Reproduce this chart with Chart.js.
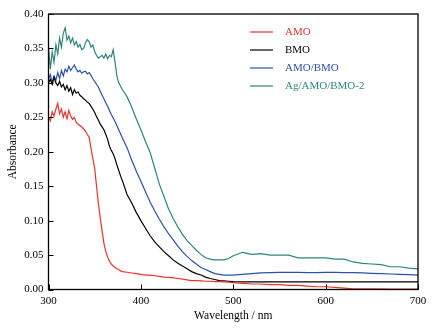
<!DOCTYPE html>
<html>
<head>
<meta charset="utf-8">
<script src="https://cdn.jsdelivr.net/npm/chart.js@4.4.1/dist/chart.umd.min.js"></script>
<style>
  html, body { margin: 0; padding: 0; background: #fff; }
  #wrap { width: 440px; height: 335px; }
</style>
</head>
<body>
<div id="wrap"><canvas id="absChart"></canvas></div>
<script>
// wavelength grid (nm)
const wavelengths = [
  300,302,304,306,308,310,312,314,316,318,320,322,324,326,328,330,332,334,336,338,
  340,342,344,346,348,350,352,354,356,358,360,362,364,366,368,370,372,374,376,378,380,
  385,390,395,400,405,410,415,420,425,430,435,440,445,450,455,460,465,470,475,480,485,490,495,500,
  510,520,530,540,550,560,570,580,590,600,610,620,630,640,650,660,670,680,690,700
];

const amo = [
  0.250,0.245,0.258,0.252,0.262,0.270,0.255,0.262,0.250,0.258,0.248,0.260,0.252,0.247,0.250,0.243,0.240,0.238,0.236,0.233,
  0.230,0.225,0.221,0.205,0.190,0.176,0.150,0.125,0.104,0.085,0.067,0.055,0.047,0.041,0.037,0.034,0.032,0.030,0.029,0.027,0.026,
  0.025,0.024,0.023,0.022,0.021,0.021,0.020,0.019,0.018,0.0175,0.017,0.016,0.015,0.014,0.013,0.013,0.0125,0.012,0.012,0.0115,0.0113,0.011,0.0105,0.010,
  0.009,0.008,0.008,0.007,0.007,0.006,0.006,0.005,0.004,0.004,0.003,0.002,0.001,0.001,0.001,0.001,0.0005,0.0005,0.0005,0.0005
];

const bmo = [
  0.300,0.305,0.298,0.308,0.300,0.296,0.302,0.294,0.298,0.290,0.296,0.288,0.293,0.283,0.290,0.285,0.287,0.282,0.280,0.277,
  0.275,0.272,0.270,0.266,0.262,0.257,0.251,0.246,0.240,0.236,0.232,0.225,0.218,0.208,0.202,0.197,0.190,0.181,0.173,0.165,0.158,
  0.138,0.126,0.112,0.100,0.089,0.078,0.069,0.062,0.055,0.049,0.043,0.038,0.034,0.030,0.026,0.023,0.021,0.018,0.016,0.0145,0.013,0.0125,0.012,0.0115,
  0.011,0.011,0.011,0.011,0.011,0.011,0.011,0.011,0.011,0.011,0.011,0.011,0.011,0.011,0.011,0.011,0.011,0.011,0.011,0.011
];

const amoBmo = [
  0.305,0.312,0.300,0.310,0.304,0.315,0.306,0.318,0.310,0.320,0.316,0.324,0.318,0.322,0.326,0.320,0.316,0.318,0.314,0.316,
  0.317,0.313,0.315,0.311,0.306,0.302,0.298,0.294,0.288,0.282,0.277,0.271,0.266,0.260,0.254,0.249,0.244,0.238,0.232,0.226,0.220,
  0.206,0.188,0.172,0.157,0.142,0.127,0.114,0.102,0.091,0.081,0.072,0.063,0.055,0.048,0.042,0.037,0.032,0.029,0.026,0.023,0.022,0.021,0.021,0.021,
  0.022,0.023,0.024,0.0245,0.025,0.025,0.025,0.0245,0.0245,0.025,0.0248,0.0245,0.0245,0.024,0.0235,0.023,0.0225,0.022,0.0215,0.021
];

const agAmoBmo = [
  0.352,0.320,0.345,0.330,0.355,0.342,0.365,0.352,0.372,0.380,0.362,0.368,0.358,0.365,0.355,0.360,0.352,0.356,0.348,0.350,
  0.358,0.363,0.360,0.352,0.355,0.345,0.340,0.336,0.338,0.340,0.336,0.342,0.335,0.340,0.338,0.348,0.330,0.310,0.300,0.295,0.290,
  0.280,0.265,0.248,0.232,0.215,0.199,0.176,0.153,0.135,0.117,0.103,0.091,0.080,0.071,0.064,0.057,0.051,0.046,0.044,0.043,0.043,0.043,0.045,0.049,
  0.054,0.051,0.052,0.050,0.050,0.050,0.046,0.046,0.046,0.046,0.044,0.044,0.040,0.038,0.037,0.036,0.033,0.033,0.031,0.030
];

const seriesNames = ['AMO', 'BMO', 'AMO/BMO', 'Ag/AMO/BMO-2'];
const seriesColors = ['#e8342c', '#000000', '#2d50a8', '#2e847e'];
const xTicks = [300, 400, 500, 600, 700];
const yTicks = [0.00, 0.05, 0.10, 0.15, 0.20, 0.25, 0.30, 0.35, 0.40];

const FONT = '"Liberation Serif", "DejaVu Serif", serif';

function toPoints(ys) {
  return ys.map((y, i) => ({ x: wavelengths[i], y: y }));
}

const allSeries = [amo, bmo, amoBmo, agAmoBmo];

// frame, inward ticks and legend
const decor = {
  id: 'decor',
  afterDraw(chart) {
    const ctx = chart.ctx;
    const a = chart.chartArea;
    const xs = chart.scales.x, ys = chart.scales.y;
    ctx.save();
    ctx.strokeStyle = '#000';
    ctx.lineWidth = 1.3;
    ctx.strokeRect(a.left, a.top, a.right - a.left, a.bottom - a.top);
    ctx.lineWidth = 1;
    ctx.beginPath();
    xTicks.forEach(v => {
      const px = Math.round(xs.getPixelForValue(v)) + 0.5;
      ctx.moveTo(px, a.bottom);
      ctx.lineTo(px, a.bottom - 5);
    });
    yTicks.forEach(v => {
      const py = Math.round(ys.getPixelForValue(v)) + 0.5;
      ctx.moveTo(a.left, py);
      ctx.lineTo(a.left + 5, py);
    });
    ctx.stroke();

    ctx.font = '11px ' + FONT;
    ctx.textBaseline = 'middle';
    ctx.textAlign = 'left';
    seriesNames.forEach((name, i) => {
      const y = 32 + i * 18;
      ctx.strokeStyle = seriesColors[i];
      ctx.lineWidth = 1.2;
      ctx.beginPath();
      ctx.moveTo(250, y);
      ctx.lineTo(273, y);
      ctx.stroke();
      ctx.fillStyle = seriesColors[i];
      ctx.fillText(name, 285, y);
    });
    ctx.restore();
  }
};

new Chart(document.getElementById('absChart'), {
  type: 'line',
  data: {
    datasets: allSeries.map((s, i) => ({
      label: seriesNames[i],
      data: toPoints(s),
      borderColor: seriesColors[i],
      borderWidth: 1.2,
      pointRadius: 0,
      tension: 0,
      fill: false
    }))
  },
  options: {
    responsive: true,
    maintainAspectRatio: false,
    animation: false,
    layout: { padding: { top: 14, right: 22, left: 0, bottom: 8 } },
    plugins: { legend: { display: false }, tooltip: { enabled: false } },
    scales: {
      x: {
        type: 'linear',
        min: 300, max: 700,
        afterFit: s => { s.height = 37.5; },
        afterBuildTicks: s => { s.ticks = xTicks.map(v => ({ value: v })); },
        grid: { display: false, drawTicks: false },
        border: { display: false },
        ticks: { color: '#000', padding: 5, maxRotation: 0, font: { family: FONT, size: 11 } },
        title: { display: true, text: 'Wavelength / nm', color: '#000', padding: 4, font: { family: FONT, size: 11.5 } }
      },
      y: {
        min: 0, max: 0.4,
        afterFit: s => { s.width = 48.5; },
        afterBuildTicks: s => { s.ticks = yTicks.map(v => ({ value: v })); },
        grid: { display: false, drawTicks: false },
        border: { display: false },
        ticks: { color: '#000', padding: 5, font: { family: FONT, size: 11 },
          callback: v => v.toFixed(2) },
        title: { display: true, text: 'Absorbance', color: '#000', padding: 6, font: { family: FONT, size: 11.5 } }
      }
    }
  },
  plugins: [decor]
});
</script>
</body>
</html>
